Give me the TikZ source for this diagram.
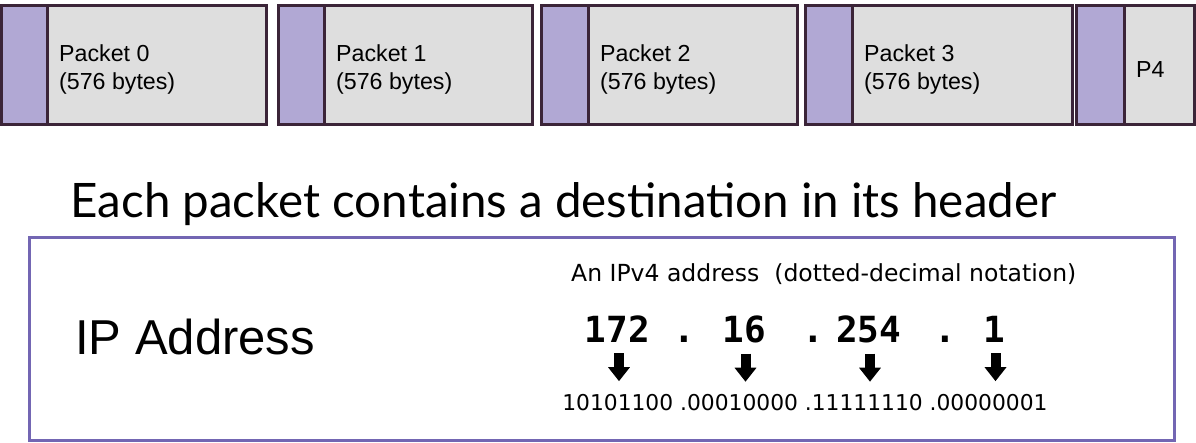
\documentclass[tikz,border=0pt]{standalone}
\usepackage{fontspec}
\setmainfont{Liberation Sans}
\newfontfamily\headfont{Lato}
\newfontfamily\dvfont{DejaVu Sans}
\newfontfamily\dvmono{DejaVu Sans Mono}
\usetikzlibrary{arrows.meta}
\definecolor{hdrpurple}{HTML}{B1A8D4}
\definecolor{bodygray}{HTML}{DEDEDE}
\definecolor{edgedark}{HTML}{3B2438}
\definecolor{boxpurple}{HTML}{7366B3}
\tikzset{
  pkthdr/.style={draw=edgedark,fill=hdrpurple,line width=3pt,inner sep=0pt,outer sep=0pt,minimum height=119pt},
  pktbody/.style={draw=edgedark,fill=bodygray,line width=3pt,inner sep=0pt,outer sep=0pt,minimum height=119pt},
  pkttext/.style={anchor=west,align=left,inner sep=0pt,font=\fontsize{23.2}{28}\selectfont},
  bignum/.style={anchor=base,inner sep=0pt,font=\dvmono\bfseries\fontsize{36}{40}\selectfont},
  bigarrow/.style={line width=10pt,-{Triangle[width=21pt,length=14pt]}}
}
\begin{document}
\begin{tikzpicture}[x=1pt,y=-1pt]
    \useasboundingbox (0,0) rectangle (1196,443);
    % packets: header left / body left / body right
    \foreach \i/\hx/\bx/\ex/\txt in {0/1.5/47/266/{Packet 0\\(576 bytes)},
                                   1/278/324/532/{Packet 1\\(576 bytes)},
                                   2/541/588/797/{Packet 2\\(576 bytes)},
                                   3/805/852/1072/{Packet 3\\(576 bytes)},
                                   4/1076/1124/1194.5/{P4}}
    {
        \node[pkthdr,minimum width=\bx pt-\hx pt] (h\i) at ({(\hx+\bx)/2},65.5) {};
        \node[pktbody,minimum width=\ex pt-\bx pt] (b\i) at ({(\bx+\ex)/2},65.5) {};
        \node[pkttext] (t\i) at (\bx+12,70) {\txt};
    }
    \node[anchor=base,inner sep=0pt,font=\headfont\fontsize{47.5}{50}\selectfont] (head) at (563.5,218)
        {Each packet contains a destination in its header};
    \node[draw=boxpurple,line width=3pt,inner sep=0pt,minimum width=1145pt,minimum height=202pt] (ipbox) at (601.5,339) {};
    \node[anchor=base west,inner sep=0pt,font=\fontsize{49}{52}\selectfont] (iplabel) at (75,355) {IP Address};
    \node[anchor=base west,inner sep=0pt,font=\dvfont\fontsize{23.5}{26}\selectfont] (ipv4) at (571,282)
        {An IPv4 address\ \ (dotted-decimal notation)};
    % the four octets
    \foreach \i/\x/\num in {1/617.5/172,2/744/16,3/868.5/254,4/994/1}
    {
        \node[bignum] (n\i) at (\x,342) {\num};
        \draw[bigarrow] ([xshift=1.5pt,yshift=-11pt]n\i.south) -- ++(0,28);
    }
    \foreach \i/\x in {1/684,2/813,3/945}
        \node[bignum] (d\i) at (\x,342) {.};
    \node[anchor=base,inner sep=0pt,font=\dvfont\fontsize{21.8}{24}\selectfont] (bin) at (805,410)
        {10101100 .00010000 .11111110 .00000001};
\end{tikzpicture}
\end{document}
